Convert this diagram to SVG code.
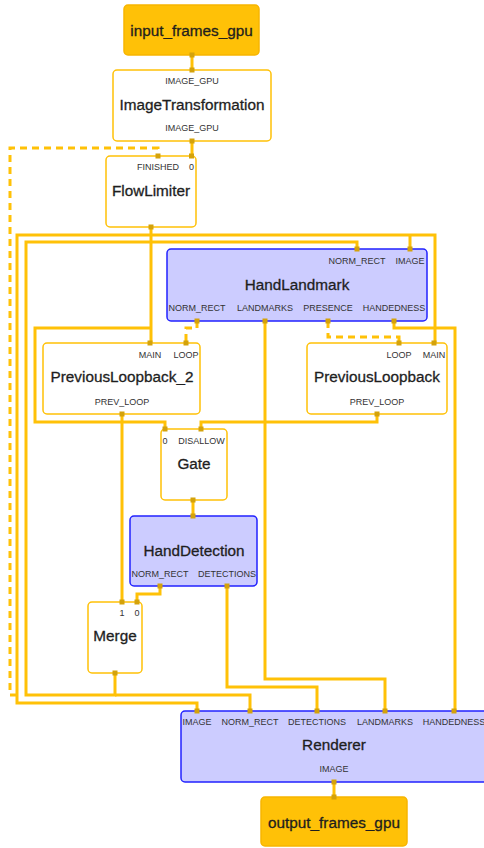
<svg xmlns="http://www.w3.org/2000/svg" width="484" height="848" viewBox="0 0 484 848">
<style>
.e{fill:none;stroke:#FFC107;stroke-width:3;stroke-linejoin:miter}
.d{stroke-dasharray:7 5}
.io{fill:#FFC107;stroke:#F7B500;stroke-width:1.5}
.n{fill:#fff;stroke:#FFC107;stroke-width:1.5}
.b{fill:#CCCCFF;stroke:#2222FF;stroke-width:1.5}
.t{font-family:"Liberation Sans",Arial,sans-serif;font-size:15.3px;fill:#1e1e1e;stroke:#1e1e1e;stroke-width:0.3;text-anchor:middle}
.p{font-family:"Liberation Sans",Arial,sans-serif;font-size:9px;fill:#333;text-anchor:middle}
.pt{fill:#D4A20B}
</style>
<defs><rect id="pp" class="pt" x="-2.5" y="-2.5" width="5" height="5"/></defs>
<g id="connectors">
<path class="e" d="M192,55V70"/>
<path class="e" d="M192,141V156"/>
<path class="e" d="M151,227V343"/>
<path class="e" d="M151,235H17V703H197V711"/>
<path class="e" d="M151,235H435V343"/>
<path class="e" d="M410,235V249"/>
<path class="e" d="M151,328H35V422H165V429"/>
<path class="e" d="M115,673V695H26V242H357V249"/>
<path class="e" d="M115,695H250V711"/>
<path class="e d" d="M197,321V328H186V343"/>
<path class="e d" d="M328,321V337H399V343"/>
<path class="e d" d="M17,695H10V148H158V156"/>
<path class="e" d="M265,321V679H385V711"/>
<path class="e" d="M394,321V328H455V711"/>
<path class="e" d="M122,414V602"/>
<path class="e" d="M377,414V422H201V429"/>
<path class="e" d="M193,500V516"/>
<path class="e" d="M160,586V594H137V602"/>
<path class="e" d="M227,586V687H317V711"/>
<path class="e" d="M334,782V797"/>
</g>
<g id="input_frames_gpu">
<rect class="io" x="124" y="5" width="135" height="50" rx="4"/>
<text class="t" x="191.5" y="35.5">input_frames_gpu</text>
<use href="#pp" x="192" y="55"/>
</g>
<g id="ImageTransformation">
<rect class="n" x="113" y="70" width="158" height="71" rx="4"/>
<text class="p" x="192" y="84">IMAGE_GPU</text>
<text class="t" x="192" y="110">ImageTransformation</text>
<text class="p" x="192" y="131">IMAGE_GPU</text>
<use href="#pp" x="192" y="70"/><use href="#pp" x="192" y="141"/>
</g>
<g id="FlowLimiter">
<rect class="n" x="106" y="156" width="90" height="71" rx="4"/>
<text class="p" x="158" y="170">FINISHED</text>
<text class="p" x="191.5" y="170">0</text>
<text class="t" x="151" y="196">FlowLimiter</text>
<use href="#pp" x="158" y="156"/><use href="#pp" x="191.5" y="156"/><use href="#pp" x="151" y="227"/>
</g>
<g id="HandLandmark">
<rect class="b" x="167" y="249" width="260" height="72" rx="4"/>
<text class="p" x="357" y="264">NORM_RECT</text>
<text class="p" x="410" y="264">IMAGE</text>
<text class="t" x="297" y="289.5">HandLandmark</text>
<text class="p" x="197" y="311">NORM_RECT</text>
<text class="p" x="265" y="311">LANDMARKS</text>
<text class="p" x="328" y="311">PRESENCE</text>
<text class="p" x="394" y="311">HANDEDNESS</text>
<use href="#pp" x="357" y="249"/><use href="#pp" x="410" y="249"/>
<use href="#pp" x="197" y="321"/><use href="#pp" x="265" y="321"/><use href="#pp" x="328" y="321"/><use href="#pp" x="394" y="321"/>
</g>
<g id="PreviousLoopback_2">
<rect class="n" x="43" y="343" width="157" height="71" rx="4"/>
<text class="p" x="150" y="358">MAIN</text>
<text class="p" x="186" y="358">LOOP</text>
<text class="t" x="122" y="382">PreviousLoopback_2</text>
<text class="p" x="122" y="405">PREV_LOOP</text>
<use href="#pp" x="150" y="343"/><use href="#pp" x="186" y="343"/><use href="#pp" x="122" y="414"/>
</g>
<g id="PreviousLoopback">
<rect class="n" x="307" y="343" width="140" height="71" rx="4"/>
<text class="p" x="399" y="358">LOOP</text>
<text class="p" x="434" y="358">MAIN</text>
<text class="t" x="377" y="382">PreviousLoopback</text>
<text class="p" x="377" y="405">PREV_LOOP</text>
<use href="#pp" x="399" y="343"/><use href="#pp" x="434" y="343"/><use href="#pp" x="377" y="414"/>
</g>
<g id="Gate">
<rect class="n" x="161" y="429" width="66" height="71" rx="4"/>
<text class="p" x="165" y="444">0</text>
<text class="p" x="201.5" y="444">DISALLOW</text>
<text class="t" x="194" y="469">Gate</text>
<use href="#pp" x="165" y="429"/><use href="#pp" x="201" y="429"/><use href="#pp" x="193" y="500"/>
</g>
<g id="HandDetection">
<rect class="b" x="130" y="516" width="127" height="70" rx="4"/>
<text class="t" x="194" y="556">HandDetection</text>
<text class="p" x="160" y="577">NORM_RECT</text>
<text class="p" x="227" y="577">DETECTIONS</text>
<use href="#pp" x="193" y="516"/><use href="#pp" x="160" y="586"/><use href="#pp" x="227" y="586"/>
</g>
<g id="Merge">
<rect class="n" x="88" y="602" width="54" height="71" rx="4"/>
<text class="p" x="122" y="616">1</text>
<text class="p" x="137" y="616">0</text>
<text class="t" x="115" y="641">Merge</text>
<use href="#pp" x="122" y="602"/><use href="#pp" x="137" y="602"/><use href="#pp" x="115" y="673"/>
</g>
<g id="Renderer">
<rect class="b" x="181" y="711" width="310" height="71" rx="4"/>
<text class="p" x="197" y="725">IMAGE</text>
<text class="p" x="250" y="725">NORM_RECT</text>
<text class="p" x="317" y="725">DETECTIONS</text>
<text class="p" x="385" y="725">LANDMARKS</text>
<text class="p" x="454" y="725">HANDEDNESS</text>
<text class="t" x="334" y="750">Renderer</text>
<text class="p" x="334" y="772">IMAGE</text>
<use href="#pp" x="197" y="711"/><use href="#pp" x="250" y="711"/><use href="#pp" x="317" y="711"/><use href="#pp" x="385" y="711"/><use href="#pp" x="454" y="711"/>
<use href="#pp" x="334" y="782"/>
</g>
<g id="output_frames_gpu">
<rect class="io" x="261" y="797" width="146" height="49" rx="4"/>
<text class="t" x="334" y="827.5">output_frames_gpu</text>
<use href="#pp" x="334" y="797"/>
</g>
</svg>
